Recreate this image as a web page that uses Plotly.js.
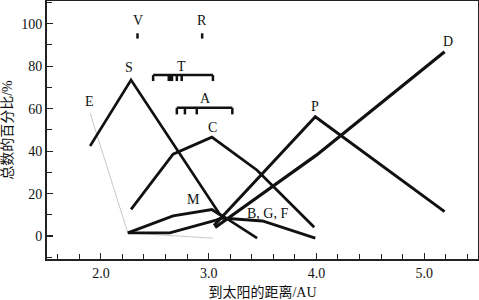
<!DOCTYPE html>
<html>
<head>
<meta charset="utf-8">
<script src="https://cdn.plot.ly/plotly-3.0.1.min.js"></script>
<style>
html,body{margin:0;padding:0;background:#fff;}
#chart{width:479px;height:300px;}
</style>
</head>
<body>
<div id="chart"></div>
<script>
// ---- data ----
const E_x = [1.90, 2.25, 3.04];
const E_y = [58, 1.5, -1];
const S_x = [1.90, 2.28, 3.10, 3.45];
const S_y = [42.4, 73.5, 10.5, -1];
const C_x = [2.28, 2.67, 3.03, 3.45, 3.98];
const C_y = [12.6, 38.6, 46.6, 31, 4.2];
const M_x = [2.25, 2.67, 3.03, 3.12];
const M_y = [1.5, 9.5, 12.5, 9.5];
const BGF_x = [2.25, 2.64, 3.07, 3.12, 3.50, 3.99];
const BGF_y = [1.5, 1.5, 7.5, 8.5, 7.1, -1];
const P_x = [3.05, 3.99, 5.19];
const P_y = [5, 56.2, 11.5];
const D_x = [3.06, 4.00, 5.19];
const D_y = [4, 38.1, 86.8];

// bracket / tick marks (AU positions)
const T_ticks = [2.485, 2.63, 2.645, 2.66, 2.705, 2.75, 3.04];
const T_level = [75.8, 73.0];
const A_ticks = [2.705, 2.78, 2.89, 3.22];
const A_level = [60.4, 57.3];
const V_x = [2.34];
const R_x = [2.94];
const VR_level = [95.5, 93.0];

// label texts and anchor points
const labelText = ['V', 'R', 'S', 'T', 'A', 'C', 'E', 'M', 'P', 'D', 'B, G, F'];
const labelX = [2.34, 2.94, 2.26, 2.75, 2.97, 3.04, 1.89, 2.86, 3.99, 5.22, 3.55];
const labelY = [101.7, 101.7, 79.6, 80.0, 65.0, 50.9, 63.6, 17.0, 60.8, 91.4, 10.8];

const xTickVals = [2, 3, 4, 5];
const xTickText = ['2.0', '3.0', '4.0', '5.0'];
const yTickVals = [0, 20, 40, 60, 80, 100];

function bracket(ticks, level) {
  const xs = [Math.min(...ticks), Math.max(...ticks), null];
  const ys = [level[0], level[0], null];
  ticks.forEach(t => { xs.push(t, t, null); ys.push(level[0], level[1], null); });
  return {x: xs, y: ys};
}

const black = '#111';
function line(x, y, w, c) {
  return {x: x, y: y, type: 'scatter', mode: 'lines',
    line: {color: c || black, width: w || 3}, hoverinfo: 'skip', showlegend: false};
}

const tB = bracket(T_ticks, T_level);
const aB = bracket(A_ticks, A_level);

const traces = [
  line(E_x, E_y, 1, '#c8c8c8'),
  line(S_x, S_y, 2.6),
  line(C_x, C_y, 2.8),
  line(M_x, M_y, 2.8),
  line(BGF_x, BGF_y, 2.8),
  line(P_x, P_y, 3),
  line(D_x, D_y, 3.2),
  line(tB.x, tB.y, 2.5),
  line(aB.x, aB.y, 2.5),
  line([V_x[0], V_x[0]], VR_level, 2.5),
  line([R_x[0], R_x[0]], VR_level, 2.5)
];

const serif = 'Liberation Serif, Noto Sans CJK SC, serif';
const annotations = labelText.map((t, i) => ({
  x: labelX[i], y: labelY[i], xref: 'x', yref: 'y', text: t, showarrow: false,
  font: {family: serif, size: 14, color: '#111'}, xanchor: 'center', yanchor: 'middle'
}));

const layout = {
  width: 479, height: 300,
  margin: {l: 47, r: 1, t: 1, b: 41},
  paper_bgcolor: '#fff', plot_bgcolor: '#fff',
  font: {family: serif, size: 14, color: '#111'},
  showlegend: false,
  xaxis: {
    range: [1.5, 5.5], showgrid: false, zeroline: false,
    showline: true, mirror: true, linecolor: '#222', linewidth: 2,
    tickvals: xTickVals, ticktext: xTickText,
    ticks: 'inside', ticklen: 6, tickwidth: 1.2, tickcolor: '#222',
    minor: {dtick: 0.2, tick0: 1.6, ticks: 'inside', ticklen: 5, tickwidth: 1, tickcolor: '#222'},
    tickfont: {family: serif, size: 14, color: '#111'},
    title: {text: '到太阳的距离/AU', font: {family: serif, size: 14, color: '#111'}, standoff: 8}
  },
  yaxis: {
    range: [-10.8, 110.7], showgrid: false, zeroline: false,
    showline: true, mirror: true, linecolor: '#222', linewidth: 2,
    tickvals: yTickVals,
    ticks: 'inside', ticklen: 6, tickwidth: 1.2, tickcolor: '#222',
    minor: {dtick: 10, tick0: 0, ticks: 'inside', ticklen: 5, tickwidth: 1, tickcolor: '#222'},
    tickfont: {family: serif, size: 14, color: '#111'},
    title: {text: '总数的百分比/%', font: {family: serif, size: 14, color: '#111'}, standoff: 6}
  },
  annotations: annotations
};

Plotly.newPlot('chart', traces, layout, {displayModeBar: false, staticPlot: true});
</script>
</body>
</html>
